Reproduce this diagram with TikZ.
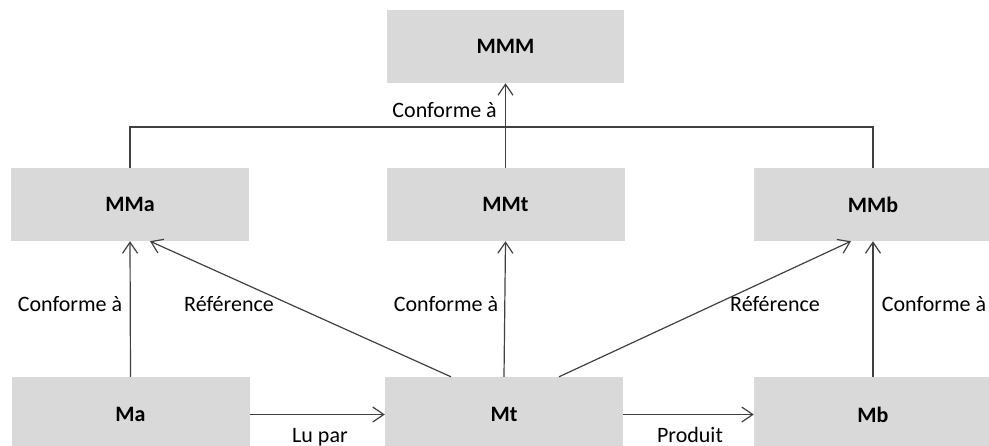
\documentclass[tikz,border=0pt]{standalone}
\usepackage{fontspec}
\setmainfont{Carlito}
\usetikzlibrary{arrows.meta}
\definecolor{boxgrey}{HTML}{D9D9D9}
\definecolor{linegrey}{HTML}{404040}
\tikzset{
  model/.style={fill=boxgrey, draw=none, minimum width=238pt, minimum height=73pt,
    inner sep=0pt, font=\fontsize{22}{26}\selectfont\bfseries},
  bottommodel/.style={model, minimum height=75pt},
  link/.style={draw=linegrey, line width=1.2pt},
  arrowlink/.style={link, -{Straight Barb[length=11pt,width=15pt,line width=1.2pt]}},
  lbl/.style={inner sep=0pt, anchor=base, font=\fontsize{22}{26}\selectfont}
}
\begin{document}
\begin{tikzpicture}[x=1pt,y=-1pt]
  \useasboundingbox (0,0) rectangle (989,445);

  % meta-meta-model
  \node[model, minimum width=237pt] (MMM) at (505.5,46.5) {MMM};

  % meta-models
  \node[model] (MMa) at (130,204.5) {MMa};
  \node[model] (MMt) at (505.5,204.5) {MMt};
  \node[model] (MMb) at (873,204.5) {MMb};

  % models
  \node[bottommodel] (Ma) at (130.5,414.5) {Ma};
  \node[bottommodel] (Mt) at (504,414.5) {Mt};
  \node[bottommodel] (Mb) at (873,414.5) {Mb};

  % conformance of the meta-models to MMM
  \coordinate (bus) at (505.5,127);
  \draw[link] (MMa.north) |- (bus) -| (MMb.north);
  \draw[arrowlink] (MMt.north) -- (MMM.south);
  \node[lbl, anchor=base east] (cMMM) at (497,117) {Conforme à};

  % conformance of the models to their meta-models
  \draw[arrowlink] (Ma.north) -- (MMa.south);
  \draw[arrowlink] (Mt.north) -- (MMt.south);
  \draw[arrowlink] (Mb.north) -- (MMb.south);
  \node[lbl] (cMa) at (70,311) {Conforme à};
  \node[lbl] (cMt) at (446,311) {Conforme à};
  \node[lbl] (cMb) at (934,311) {Conforme à};

  % references from the transformation model
  \draw[arrowlink] ([xshift=-53pt]Mt.north) -- ([xshift=20pt]MMa.south);
  \draw[arrowlink] ([xshift=55pt]Mt.north) -- ([xshift=-22pt]MMb.south);
  \node[lbl] (rA) at (229,311) {Référence};
  \node[lbl] (rB) at (775,311) {Référence};

  % model flow
  \draw[arrowlink] (Ma.east) -- (Mt.west);
  \draw[arrowlink] (Mt.east) -- (Mb.west);
  \node[lbl] (lu) at (320,442) {Lu par};
  \node[lbl] (prod) at (690,442) {Produit};
\end{tikzpicture}
\end{document}
